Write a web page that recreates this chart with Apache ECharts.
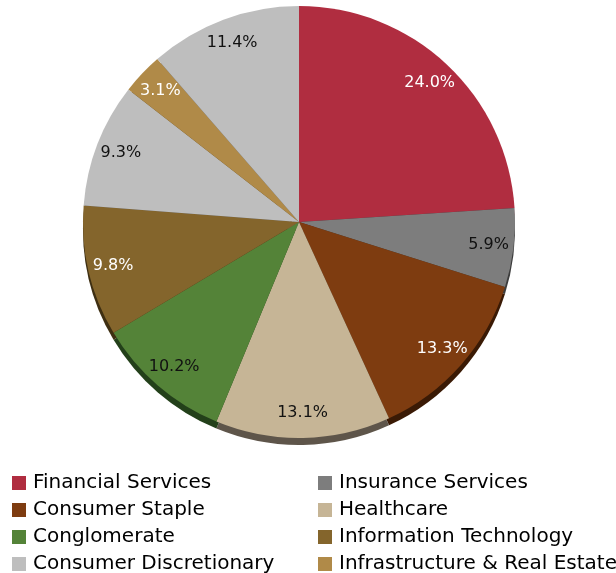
<!DOCTYPE html>
<html lang="en">
<head>
  <meta charset="UTF-8">
  <title>Sector allocation</title>
  <script src="https://cdn.jsdelivr.net/npm/echarts@6/dist/echarts.min.js"></script>
  <style>
    html, body {
      margin: 0;
      padding: 0;
      background: #ffffff;
    }
    #main {
      width: 616px;
      height: 573px;
    }
  </style>
</head>
<body>
  <div id="main"></div>
  <script>
    // data
    var sectors = ['Financial Services', 'Insurance Services', 'Consumer Staple', 'Healthcare',
      'Conglomerate', 'Information Technology', 'Consumer Discretionary',
      'Infrastructure & Real Estate', 'Others'];
    var shares = [24.0, 5.9, 13.3, 13.1, 10.2, 9.8, 9.3, 3.1, 11.4];

    // legend columns (the 9th slice has no visible legend row)
    var legendLeft = ['Financial Services', 'Consumer Staple', 'Conglomerate', 'Consumer Discretionary'];
    var legendRight = ['Insurance Services', 'Healthcare', 'Information Technology', 'Infrastructure & Real Estate'];

    // styles
    var sliceColors = ['#b02d40', '#7d7d7d', '#7e3c10', '#c6b596', '#548338', '#84652c', '#bebebe', '#b08a48', '#bebebe'];
    var rimColors = ['#5a1520', '#3c3c3c', '#3a1a05', '#5e554a', '#23401a', '#3e2f12', '#5a5a5a', '#5a4520', '#5a5a5a'];
    var labelColors = ['#ffffff', '#111111', '#ffffff', '#111111', '#111111', '#ffffff', '#111111', '#ffffff', '#111111'];

    var FONT = '"DejaVu Sans", "Lucida Grande", sans-serif';
    var CX = 299, CY = 222, R = 216;

    function buildData(colorArr, withLabel) {
      return sectors.map(function (name, i) {
        var item = { name: name, value: shares[i], itemStyle: { color: colorArr ? colorArr[i] : 'rgba(0,0,0,0)' } };
        if (withLabel) {
          item.label = { color: labelColors[i] };
        }
        return item;
      });
    }

    function legendCol(left, names) {
      return {
        orient: 'vertical',
        left: left,
        top: 473,
        height: 140,
        padding: 0,
        icon: 'rect',
        itemWidth: 14,
        itemHeight: 14,
        itemGap: 7,
        selectedMode: false,
        data: names,
        textStyle: { fontFamily: FONT, fontSize: 20, color: '#000000', lineHeight: 20, padding: [0, 0, 0, 2] }
      };
    }

    var chart = echarts.init(document.getElementById('main'), null, { renderer: 'canvas' });

    var option = {
      animation: false,
      backgroundColor: '#ffffff',
      legend: [legendCol(12, legendLeft), legendCol(318, legendRight)],
      series: [
        {
          // main face
          name: 'share',
          type: 'pie',
          z: 2,
          center: [CX, CY],
          radius: [0, R],
          startAngle: 90,
          clockwise: true,
          silent: true,
          label: { show: false },
          labelLine: { show: false },
          itemStyle: { borderWidth: 0 },
          emphasis: { disabled: true },
          data: buildData(sliceColors, false)
        },
        {
          // dark rim under the face, gives the tilted look
          name: 'rim',
          type: 'pie',
          z: 1,
          center: [CX, CY + 7],
          radius: [0, R],
          startAngle: 90,
          clockwise: true,
          silent: true,
          label: { show: false },
          labelLine: { show: false },
          itemStyle: { borderWidth: 0 },
          emphasis: { disabled: true },
          data: buildData(rimColors, false)
        },
        {
          // transparent ring only used to place the percentage labels near the edge
          name: 'labels',
          type: 'pie',
          z: 3,
          center: [CX, CY],
          radius: [R - 56, R],
          startAngle: 90,
          clockwise: true,
          silent: true,
          labelLine: { show: false },
          itemStyle: { borderWidth: 0 },
          emphasis: { disabled: true },
          label: {
            show: true,
            position: 'inside',
            rotate: 0,
            fontFamily: FONT,
            fontSize: 16,
            formatter: function (p) {
              return p.value.toFixed(1) + '%';
            }
          },
          data: buildData(null, true)
        }
      ]
    };

    chart.setOption(option);
  </script>
</body>
</html>
